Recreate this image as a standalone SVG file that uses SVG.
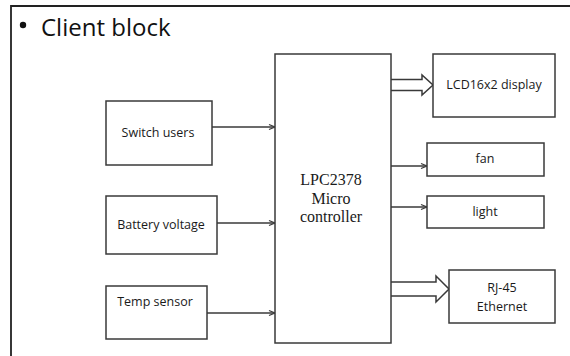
<svg xmlns="http://www.w3.org/2000/svg" width="570" height="356" viewBox="0 0 570 356">
<defs>
<marker id="ah" markerWidth="8" markerHeight="8" refX="7" refY="4" orient="auto" markerUnits="userSpaceOnUse">
<path d="M1,1.5 L7,4 L1,6.5" fill="none" stroke="#3a3a3a" stroke-width="1.3"/>
</marker>
<style>
.box{fill:#fff;stroke:#3a3a3a;stroke-width:1.5}
.ln{fill:none;stroke:#3a3a3a;stroke-width:1.5}
.t{font-family:"Open Sans","Liberation Sans",sans-serif;font-size:12.5px;fill:#1a1a1a;text-anchor:middle}
.s{font-family:"Liberation Serif",serif;font-size:16px;fill:#1a1a1a;text-anchor:middle}
</style>
</defs>
<rect width="570" height="356" fill="#fff"/>
<path d="M11,356 V6 H570" fill="none" stroke="#222" stroke-width="1.8"/>
<circle cx="23" cy="25" r="3.2" fill="#111"/>
<text x="41" y="36" font-family="Open Sans, Liberation Sans, sans-serif" font-size="24" fill="#111">Client block</text>
<g id="connectors">
<line class="ln" x1="212" y1="127" x2="275" y2="127" marker-end="url(#ah)"/>
<line class="ln" x1="217" y1="223" x2="275" y2="223" marker-end="url(#ah)"/>
<line class="ln" x1="207" y1="313" x2="275" y2="313" marker-end="url(#ah)"/>
<line class="ln" x1="391" y1="166" x2="427" y2="166" marker-end="url(#ah)"/>
<line class="ln" x1="391" y1="207" x2="427" y2="207" marker-end="url(#ah)"/>
<path class="box" d="M391,79.5 H422 V75 L433,85 L422,95 V90.5 H391"/>
<path class="box" d="M391,282 H436 V276 L449,289 L436,302 V296 H391"/>
</g>
<g id="switch"><rect class="box" x="106" y="101" width="106" height="64"/><text class="t" x="158" y="137">Switch users</text></g>
<g id="battery"><rect class="box" x="106" y="196" width="111" height="58"/><text class="t" x="161" y="229">Battery voltage</text></g>
<g id="temp"><rect class="box" x="106" y="286" width="101" height="53"/><text class="t" x="155" y="306">Temp sensor</text></g>
<g id="mcu"><rect class="box" x="275" y="54" width="116" height="289"/>
<text class="s" x="331" y="185">LPC2378</text><text class="s" x="331" y="204">Micro</text><text class="s" x="331" y="222">controller</text></g>
<g id="lcd"><rect class="box" x="433" y="54" width="122" height="63"/><text class="t" x="494" y="89">LCD16x2 display</text></g>
<g id="fan"><rect class="box" x="427" y="143" width="117" height="33"/><text class="t" x="485" y="163">fan</text></g>
<g id="light"><rect class="box" x="427" y="196" width="117" height="32"/><text class="t" x="485" y="216">light</text></g>
<g id="rj45"><rect class="box" x="449" y="270" width="106" height="53"/><text class="t" x="502" y="292">RJ-45</text><text class="t" x="502" y="311">Ethernet</text></g>
</svg>
